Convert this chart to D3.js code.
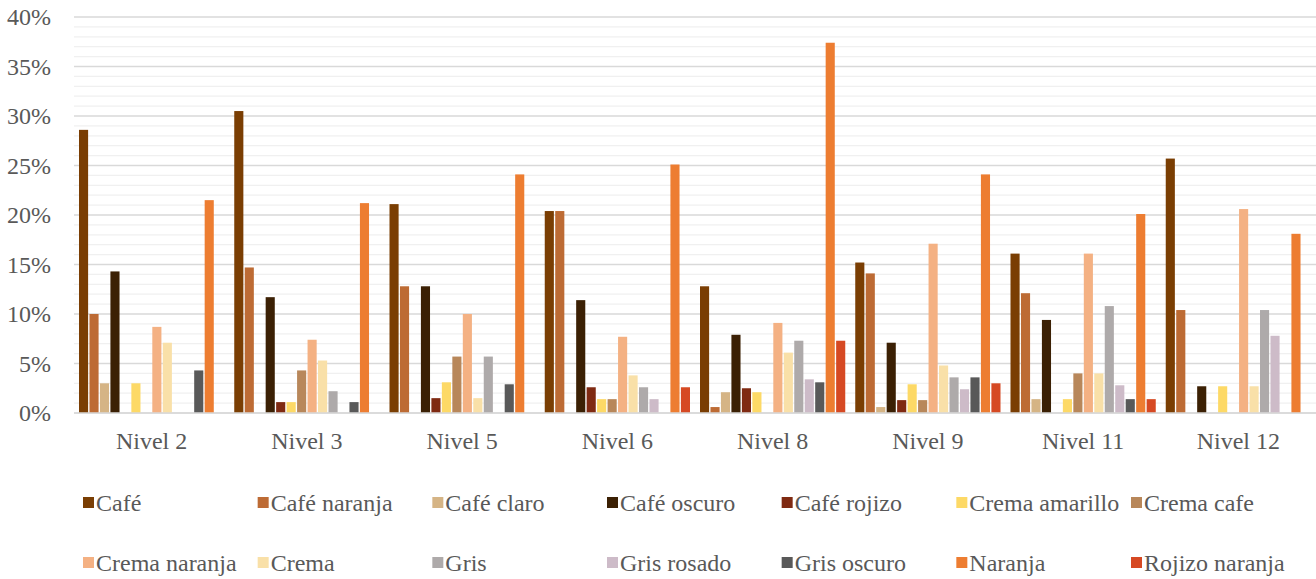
<!DOCTYPE html>
<html><head><meta charset="utf-8">
<script src="https://cdn.jsdelivr.net/npm/d3@7"></script>
<style>body{margin:0;background:#fff}svg{display:block}
svg text{font-family:"Liberation Serif","Times New Roman","DejaVu Serif",serif !important;}</style>
</head><body>
<svg id="c" width="1316" height="579"></svg>
<script>
const categories = ["Nivel 2","Nivel 3","Nivel 5","Nivel 6","Nivel 8","Nivel 9","Nivel 11","Nivel 12"];
const seriesNames = ["Café","Café naranja","Café claro","Café oscuro","Café rojizo","Crema amarillo","Crema cafe","Crema naranja","Crema","Gris","Gris rosado","Gris oscuro","Naranja","Rojizo naranja"];
const seriesColors = ["#7a3e03","#bd6b34","#d5b485","#3b2004","#7f2a12","#fdd966","#b8875a","#f4b183","#f9e0a8","#aeaaaa","#cdbbc8","#595959","#ed7d31","#d64923"];
// values in %, one array per series, ordered as categories
const cafe          = [28.6,30.5,21.1,20.4,12.8,15.2,16.1,25.7];
const cafeNaranja   = [10.0,14.7,12.8,20.4,0.6,14.1,12.1,10.4];
const cafeClaro     = [3.0,0,0,0,2.1,0.6,1.4,0];
const cafeOscuro    = [14.3,11.7,12.8,11.4,7.9,7.1,9.4,2.7];
const cafeRojizo    = [0,1.1,1.5,2.6,2.5,1.3,0,0];
const cremaAmarillo = [3.0,1.1,3.1,1.4,2.1,2.9,1.4,2.7];
const cremaCafe     = [0,4.3,5.7,1.4,0,1.3,4.0,0];
const cremaNaranja  = [8.7,7.4,10.0,7.7,9.1,17.1,16.1,20.6];
const crema         = [7.1,5.3,1.5,3.8,6.1,4.8,4.0,2.7];
const gris          = [0,2.2,5.7,2.6,7.3,3.6,10.8,10.4];
const grisRosado    = [0,0,0,1.4,3.4,2.4,2.8,7.8];
const grisOscuro    = [4.3,1.1,2.9,0,3.1,3.6,1.4,0];
const naranja       = [21.5,21.2,24.1,25.1,37.4,24.1,20.1,18.1];
const rojizoNaranja = [0,0,0,2.6,7.3,3.0,1.4,0];
const seriesValues = [cafe,cafeNaranja,cafeClaro,cafeOscuro,cafeRojizo,cremaAmarillo,cremaCafe,cremaNaranja,crema,gris,grisRosado,grisOscuro,naranja,rojizoNaranja];
const yTicks = [0,5,10,15,20,25,30,35,40];

const svg = d3.select("#c");
const mLeft = 74, mRight = 1316, mTop = 17, mBottom = 413;
const x0 = d3.scaleBand().domain(categories).range([mLeft,mRight]).padding(0);
const x1 = d3.scaleBand().domain(seriesNames).range([5, x0.bandwidth()-5]).paddingInner(0.13);
const y = d3.scaleLinear().domain([0,40]).range([mBottom,mTop]);

// minor grid
svg.append("g").selectAll("line").data(d3.range(0,41,1).filter(v=>v%5!==0)).join("line")
  .attr("x1",mLeft).attr("x2",mRight).attr("y1",d=>y(d)).attr("y2",d=>y(d))
  .attr("stroke","#f0f0f0").attr("stroke-width",1.3);
// major grid
svg.append("g").selectAll("line").data(yTicks).join("line")
  .attr("x1",mLeft).attr("x2",mRight).attr("y1",d=>y(d)).attr("y2",d=>y(d))
  .attr("stroke","#d9d9d9").attr("stroke-width",1.5);

// y axis labels
const ya = svg.append("g").attr("transform",`translate(${mLeft-23},0)`)
  .call(d3.axisLeft(y).tickValues(yTicks).tickFormat(d=>d+"%").tickSize(0));
ya.select(".domain").remove();
ya.selectAll("text").attr("font-size",24).attr("fill","#595959").attr("x",0);

// bars
const groups = svg.append("g").selectAll("g").data(categories).join("g")
  .attr("transform",d=>`translate(${x0(d)},0)`);
groups.selectAll("rect").data((c,ci)=>seriesNames.map((s,si)=>({s,si,v:seriesValues[si][ci]})).filter(d=>d.v>0)).join("rect")
  .attr("x",d=>x1(d.s)).attr("width",x1.bandwidth())
  .attr("y",d=>y(d.v)).attr("height",d=>y(0)-y(d.v))
  .attr("fill",d=>seriesColors[d.si]);

// x axis baseline
svg.append("line").attr("x1",mLeft).attr("x2",mRight).attr("y1",y(0)).attr("y2",y(0))
  .attr("stroke","#d9d9d9").attr("stroke-width",1.5);

// x labels
const xa = svg.append("g").attr("transform",`translate(0,${mBottom})`)
  .call(d3.axisBottom(x0).tickSize(0));
xa.select(".domain").remove();
xa.selectAll("text").attr("font-size",24).attr("fill","#595959").attr("dy",0).attr("y",36);

// legend
const legX = d3.scalePoint().domain(d3.range(7)).range([83,1131]);
const legY = [503,563];
const leg = svg.append("g").selectAll("g").data(seriesNames).join("g")
  .attr("transform",(d,i)=>`translate(${legX(i%7)},${legY[Math.floor(i/7)]})`);
leg.append("rect").attr("x",0).attr("y",-6).attr("width",11).attr("height",11)
  .attr("fill",(d,i)=>seriesColors[i]);
leg.append("text").attr("x",13).attr("y",0).attr("dy","0.35em")
  .attr("font-size",24).attr("fill","#595959").text(d=>d);
</script>
</body></html>
